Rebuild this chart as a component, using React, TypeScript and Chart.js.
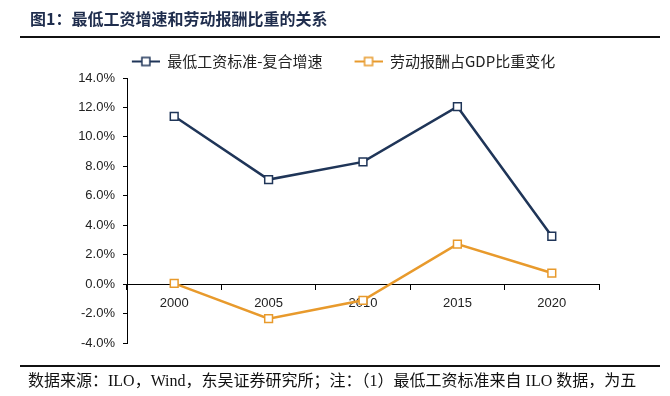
import React, { useEffect, useRef } from "react";
import { Chart, registerables } from "chart.js";

Chart.register(...registerables);

const categories = ["2000", "2005", "2010", "2015", "2020"];
const seriesNames = ["最低工资标准-复合增速", "劳动报酬占GDP比重变化"];
const minWageGrowth = [11.4, 7.1, 8.3, 12.05, 3.25];
const laborShareChange = [0.05, -2.35, -1.1, 2.72, 0.75];
const seriesColors = ["#1F3558", "#E89A2C"];
const yTicks = { min: -4, max: 14, step: 2 };

function makeLegendImage(color: string): HTMLCanvasElement {
  const c = document.createElement("canvas");
  c.width = 56;
  c.height = 12;
  const ctx = c.getContext("2d")!;
  ctx.strokeStyle = color;
  ctx.lineWidth = 2;
  ctx.beginPath();
  ctx.moveTo(28, 6);
  ctx.lineTo(56, 6);
  ctx.stroke();
  ctx.fillStyle = "#fff";
  ctx.fillRect(38, 2, 8, 8);
  ctx.lineWidth = 1.5;
  ctx.strokeRect(38, 2, 8, 8);
  return c;
}

export default function App() {
  const ref = useRef<HTMLCanvasElement>(null);
  useEffect(() => {
    if (!ref.current) return;
    const imgs = seriesColors.map(makeLegendImage);
    const chart = new Chart(ref.current, {
      type: "line",
      data: {
        labels: categories,
        datasets: [
          {
            label: seriesNames[0],
            data: minWageGrowth,
            borderColor: seriesColors[0],
            backgroundColor: "#fff",
            borderWidth: 2.5,
            pointStyle: "rect",
            pointRadius: 5.5,
            pointBorderWidth: 1.5,
            pointBackgroundColor: "#fff",
            pointBorderColor: seriesColors[0],
            tension: 0,
          },
          {
            label: seriesNames[1],
            data: laborShareChange,
            borderColor: seriesColors[1],
            backgroundColor: "#fff",
            borderWidth: 2.5,
            pointStyle: "rect",
            pointRadius: 5.5,
            pointBorderWidth: 1.5,
            pointBackgroundColor: "#fff",
            pointBorderColor: seriesColors[1],
            tension: 0,
          },
        ],
      },
      options: {
        responsive: false,
        animation: false,
        layout: { padding: { top: 50, left: 60, right: 71, bottom: 53 } },
        plugins: {
          tooltip: { enabled: false },
          legend: {
            position: "top",
            maxHeight: 28,
            labels: {
              usePointStyle: true,
              pointStyleWidth: 56,
              padding: 4,
              color: "#222",
              font: { family: "'Noto Sans CJK SC', sans-serif", size: 15 },
              generateLabels: (ch: any) =>
                Chart.defaults.plugins.legend.labels
                  .generateLabels(ch)
                  .map((l: any, i: number) => ({ ...l, pointStyle: imgs[i] })),
            },
          },
        },
        scales: {
          x: {
            type: "category",
            offset: true,
            position: { y: 0 } as any,
            grid: {
              display: true,
              offset: true,
              drawOnChartArea: false,
              drawTicks: true,
              tickLength: 5,
              color: "#000",
            },
            border: { display: true, color: "#000", width: 1 },
            ticks: {
              padding: 7,
              color: "#222",
              font: { family: "'Liberation Sans', Arial, sans-serif", size: 13 },
            },
          },
          y: {
            min: yTicks.min,
            max: yTicks.max,
            afterFit: (s: any) => {
              s.width = 67;
            },
            grid: {
              display: true,
              drawOnChartArea: false,
              drawTicks: true,
              tickLength: 4,
              color: "#000",
            },
            border: { display: true, color: "#000", width: 1 },
            ticks: {
              stepSize: yTicks.step,
              padding: 8,
              color: "#222",
              font: { family: "'Liberation Sans', Arial, sans-serif", size: 13 },
              callback: (v: any) => Number(v).toFixed(1) + "%",
            },
          },
        },
      },
    });
    return () => chart.destroy();
  }, []);

  return (
    <div style={{ position: "fixed", left: 0, top: 0, width: 670, height: 396, background: "#fff" }}>
      <canvas ref={ref} width={670} height={396} style={{ position: "absolute", left: 0, top: 0 }} />
      <div
        style={{
          position: "absolute",
          left: 30,
          top: 8,
          fontFamily: "'Noto Sans CJK SC', sans-serif",
          fontWeight: "bold",
          fontSize: 16,
          lineHeight: "20px",
          color: "#1F2D4D",
          whiteSpace: "nowrap",
        }}
      >
        图1：最低工资增速和劳动报酬比重的关系
      </div>
      <div style={{ position: "absolute", left: 20, top: 36, width: 640, height: 2, background: "#111" }} />
      <div style={{ position: "absolute", left: 20, top: 365, width: 640, height: 2, background: "#111" }} />
      <div
        style={{
          position: "absolute",
          left: 28,
          top: 371,
          fontFamily: "'Liberation Serif', 'Noto Sans CJK SC', serif",
          fontSize: 16,
          lineHeight: "20px",
          color: "#111",
          whiteSpace: "nowrap",
        }}
      >
        数据来源：ILO，Wind，东吴证券研究所；注：（1）最低工资标准来自 ILO 数据，为五
      </div>
    </div>
  );
}
